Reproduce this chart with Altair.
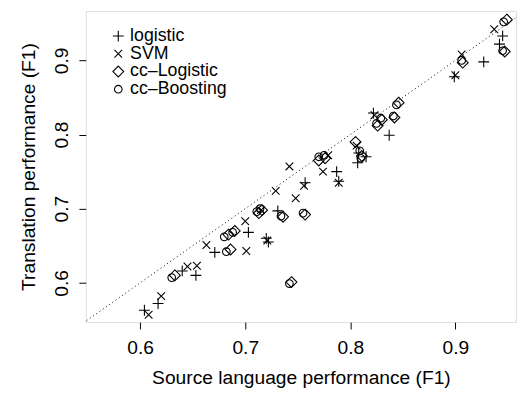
import altair as alt
import pandas as pd

methods = ["logistic", "SVM", "cc–Logistic", "cc–Boosting"]

logistic_src = [0.604, 0.617, 0.640, 0.653, 0.671, 0.703, 0.720, 0.722, 0.731, 0.757,
                0.787, 0.789, 0.807, 0.815, 0.822, 0.837, 0.899, 0.927, 0.945, 0.942, 0.808]
logistic_tgt = [0.563, 0.572, 0.616, 0.610, 0.641, 0.668, 0.660, 0.655, 0.697, 0.735,
                0.750, 0.737, 0.762, 0.770, 0.829, 0.799, 0.878, 0.898, 0.933, 0.922, 0.775]

svm_src = [0.608, 0.620, 0.645, 0.654, 0.663, 0.701, 0.700, 0.721, 0.729, 0.742,
           0.748, 0.756, 0.774, 0.779, 0.789, 0.806, 0.823, 0.900, 0.906, 0.937, 0.715]
svm_tgt = [0.557, 0.582, 0.622, 0.623, 0.651, 0.643, 0.683, 0.657, 0.724, 0.757,
           0.714, 0.731, 0.750, 0.772, 0.735, 0.785, 0.826, 0.880, 0.908, 0.942, 0.698]

cclog_src = [0.633, 0.686, 0.684, 0.690, 0.713, 0.716, 0.736, 0.757, 0.744, 0.770,
             0.776, 0.805, 0.811, 0.826, 0.830, 0.842, 0.846, 0.907, 0.947, 0.949]
cclog_tgt = [0.610, 0.645, 0.665, 0.670, 0.694, 0.698, 0.689, 0.692, 0.601, 0.765,
             0.768, 0.790, 0.771, 0.812, 0.820, 0.823, 0.843, 0.897, 0.912, 0.955]

ccboost_src = [0.630, 0.682, 0.680, 0.688, 0.711, 0.714, 0.734, 0.755, 0.742, 0.770,
               0.775, 0.809, 0.810, 0.825, 0.829, 0.841, 0.844, 0.906, 0.945, 0.946]
ccboost_tgt = [0.607, 0.642, 0.662, 0.668, 0.696, 0.700, 0.690, 0.694, 0.599, 0.770,
               0.772, 0.778, 0.768, 0.815, 0.822, 0.825, 0.840, 0.900, 0.913, 0.952]

ticks = [0.6, 0.7, 0.8, 0.9]
diag_ends = [0.5, 1.0]

rows = []
for m, xs, ys in zip(methods,
                     [logistic_src, svm_src, cclog_src, ccboost_src],
                     [logistic_tgt, svm_tgt, cclog_tgt, ccboost_tgt]):
    for a, b in zip(xs, ys):
        rows.append({"src": a, "tgt": b, "method": m})
df = pd.DataFrame(rows)
diag = pd.DataFrame({"v": diag_ends})

shape_paths = [
    "M-1,0L1,0M0,-1L0,1",
    "M-0.707,-0.707L0.707,0.707M-0.707,0.707L0.707,-0.707",
    "M0,-1L1,0L0,1L-1,0Z",
    "M0.707,0A0.707,0.707 0 1,1 -0.707,0A0.707,0.707 0 1,1 0.707,0Z",
]

FONT = "Liberation Sans"
FS = 19.5
LFS = 18
xscale = alt.Scale(domain=[0.5482, 0.9578], nice=False, zero=False)
yscale = alt.Scale(domain=[0.547, 0.9667], nice=False, zero=False)

xaxis = alt.Axis(values=ticks, format=".1f", domain=False, grid=False, tickSize=7,
                 tickColor="black", tickWidth=1, labelFontSize=FS, labelFont=FONT,
                 labelColor="black", labelPadding=10, titleFontSize=FS, titleFont=FONT,
                 titleFontWeight="normal", titleColor="black", titleBaseline="alphabetic",
                 titleY=62, labelFlush=False)
yaxis = alt.Axis(values=ticks, format=".1f", domain=False, grid=False, tickSize=7,
                 tickColor="black", tickWidth=1, labelFontSize=FS, labelFont=FONT,
                 labelColor="black", labelAngle=270, labelAlign="center",
                 labelBaseline="alphabetic", labelPadding=12, titleFontSize=FS,
                 titleFont=FONT, titleFontWeight="normal", titleColor="black",
                 titleAngle=270, titleBaseline="alphabetic", titleX=-52, labelFlush=False)

XT = "Source language performance (F1)"
YT = "Translation performance (F1)"

line = alt.Chart(diag).mark_line(clip=True, color="black", strokeDash=[1, 3],
                                 strokeWidth=1).encode(
    x=alt.X("v:Q", scale=xscale, axis=xaxis, title=XT),
    y=alt.Y("v:Q", scale=yscale, axis=yaxis, title=YT),
)

points = alt.Chart(df).mark_point(filled=False, size=121, strokeWidth=1.1,
                                  color="black", opacity=1).encode(
    x=alt.X("src:Q", scale=xscale, axis=xaxis, title=XT),
    y=alt.Y("tgt:Q", scale=yscale, axis=yaxis, title=YT),
    shape=alt.Shape("method:N", sort=methods,
                    scale=alt.Scale(domain=methods, range=shape_paths),
                    legend=alt.Legend(orient="none", legendX=24, legendY=16.5, title=None,
                                      labelFontSize=LFS, labelFont=FONT, labelColor="black",
                                      symbolSize=121, symbolStrokeWidth=1.1,
                                      symbolStrokeColor="black", rowPadding=0, padding=0,
                                      labelOffset=3)),
)

chart = alt.layer(line, points).properties(
    width=437, height=316,
    autosize=alt.AutoSizeParams(type="none"),
    padding={"left": 79, "top": 0, "right": 5, "bottom": 69},
).configure_view(stroke="black", strokeWidth=1).configure(background="white")

chart.save("out.html", embed_options={"renderer": "svg", "actions": False})
